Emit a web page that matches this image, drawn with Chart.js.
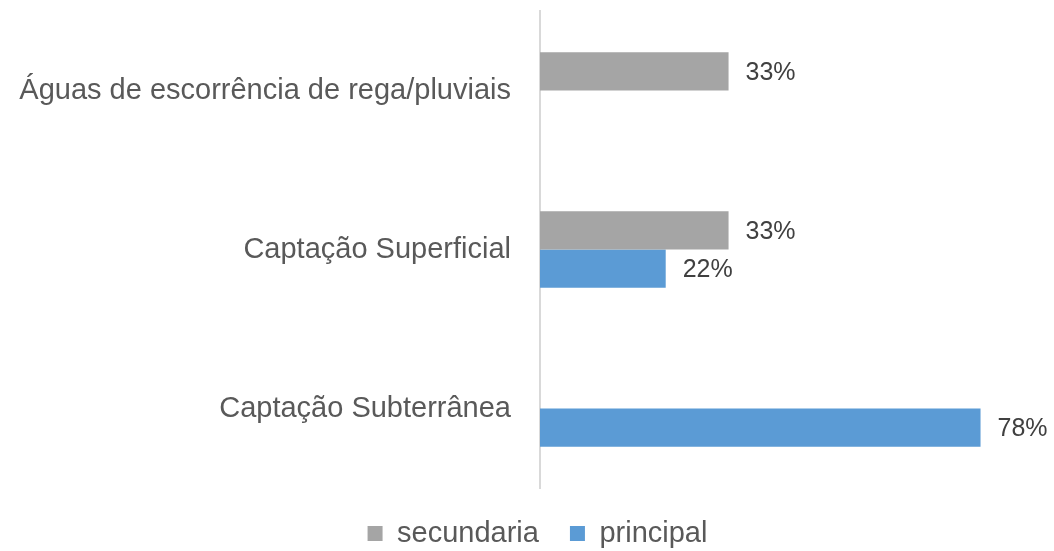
<!DOCTYPE html>
<html>
<head>
<meta charset="utf-8">
<script src="https://cdn.jsdelivr.net/npm/chart.js@4.4.0/dist/chart.umd.min.js"></script>
<style>
  html, body { margin: 0; padding: 0; background: #fff; }
  #wrap { width: 1054px; height: 551px; }
</style>
</head>
<body>
<div id="wrap"><canvas id="sourcesChart"></canvas></div>
<script>
const categories = ['Águas de escorrência de rega/pluviais', 'Captação Superficial', 'Captação Subterrânea'];
const secundaria = [33.3, 33.3, null];
const principal = [null, 22.2, 77.8];
const seriesNames = ['secundaria', 'principal'];

// draws the "33%" style labels at the end of every bar
const barLabels = {
    id: 'barLabels',
    afterDatasetsDraw(chart) {
        const ctx = chart.ctx;
        ctx.save();
        ctx.font = '25px "Liberation Sans", Arial, sans-serif';
        ctx.fillStyle = '#404040';
        ctx.textAlign = 'left';
        ctx.textBaseline = 'middle';
        chart.data.datasets.forEach((ds, i) => {
            const meta = chart.getDatasetMeta(i);
            meta.data.forEach((bar, j) => {
                const v = ds.data[j];
                if (v === null || v === undefined) return;
                ctx.fillText(Math.round(v) + '%', bar.x + 17, bar.y + 2);
            });
        });
        ctx.restore();
    }
};

// legend in the original is centred a bit right of the page middle
const legendShift = {
    id: 'legendShift',
    afterLayout(chart) {
        if (chart.legend) chart.legend.left += 82;
    }
};

const ctx = document.getElementById('sourcesChart').getContext('2d');
new Chart(ctx, {
    type: 'bar',
    data: {
        labels: categories,
        datasets: [{
            label: seriesNames[0],
            data: secundaria,
            backgroundColor: '#A5A5A5'
        }, {
            label: seriesNames[1],
            data: principal,
            backgroundColor: '#5B9BD5'
        }]
    },
    options: {
        indexAxis: 'y',
        responsive: true,
        maintainAspectRatio: false,
        animation: false,
        categoryPercentage: 0.48,
        barPercentage: 1.0,
        layout: {
            padding: { top: 11, right: 61, bottom: -7, left: 0 }
        },
        scales: {
            x: {
                display: false,
                min: 0,
                max: 80
            },
            y: {
                grid: { display: false, drawTicks: true, tickLength: 36 },
                border: { display: true, color: '#D9D9D9', width: 2 },
                ticks: {
                    color: '#595959',
                    padding: -7,
                    font: { family: '"Liberation Sans", Arial, sans-serif', size: 29 }
                },
                afterFit(scale) {
                    scale.width = 540;
                }
            }
        },
        plugins: {
            legend: {
                position: 'bottom',
                labels: {
                    color: '#595959',
                    boxWidth: 15,
                    boxHeight: 15,
                    padding: 31,
                    font: { family: '"Liberation Sans", Arial, sans-serif', size: 29 }
                }
            },
            tooltip: { enabled: false }
        }
    },
    plugins: [barLabels, legendShift]
});
</script>
</body>
</html>
